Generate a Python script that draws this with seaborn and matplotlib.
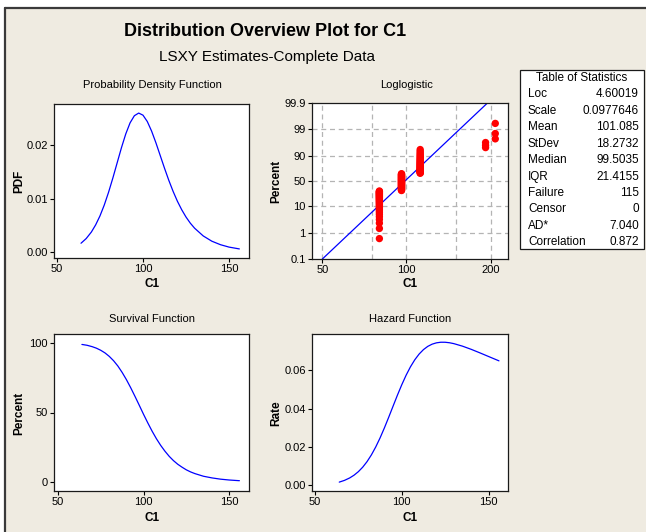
import numpy as np
import pandas as pd
import matplotlib
matplotlib.use('Agg')
import matplotlib.pyplot as plt
import seaborn as sns
from matplotlib.ticker import FixedLocator, NullLocator, NullFormatter
from matplotlib.patches import Rectangle
from matplotlib.lines import Line2D

# values
c1 = [64, 67, 70, 72.5, 75, 77.5, 80, 82.5, 85, 87.5, 90, 92.5, 95, 97.5, 100, 102.5,
      105, 107.5, 110, 112.5, 115, 117.5, 120, 122.5, 125, 127.5, 130, 135, 140, 145, 150, 156]
pdf = [0.00171, 0.00258, 0.00379, 0.00513, 0.00679, 0.00882, 0.01120, 0.01386, 0.01669, 0.01951,
       0.02207, 0.02413, 0.02546, 0.02595, 0.02556, 0.02438, 0.02260, 0.02043, 0.01806, 0.01569,
       0.01343, 0.01137, 0.00953, 0.00795, 0.00659, 0.00545, 0.00451, 0.00307, 0.00209, 0.00144,
       0.00099, 0.00065]
survival = [98.9, 98.3, 97.3, 96.2, 94.7, 92.8, 90.3, 87.2, 83.4, 78.8, 73.6, 67.8, 61.6, 55.2,
            48.7, 42.5, 36.6, 31.2, 26.4, 22.2, 18.5, 15.4, 12.8, 10.7, 8.8, 7.3, 6.1, 4.2, 3.0,
            2.1, 1.5, 1.0]
hazard = [0.00173, 0.00263, 0.00390, 0.00533, 0.00717, 0.00950, 0.01240, 0.01590, 0.02002,
          0.02474, 0.02997, 0.03556, 0.04131, 0.04702, 0.05244, 0.05741, 0.06178, 0.06546,
          0.06845, 0.07076, 0.07246, 0.07361, 0.07430, 0.07461, 0.07460, 0.07434, 0.07388,
          0.07256, 0.07091, 0.06908, 0.06718, 0.06491]

# probability plot: failure values and how many of each
fail_values = [80, 96, 112, 192, 208]
fail_counts = [34, 42, 33, 3, 3]
fit_c1 = [50, 195]
fit_pct = [0.1, 99.9]

stat_names = ['Loc', 'Scale', 'Mean', 'StDev', 'Median', 'IQR', 'Failure', 'Censor', 'AD*', 'Correlation']
stat_values = ['4.60019', '0.0977646', '101.085', '18.2732', '99.5035', '21.4155', '115', '0', '7.040', '0.872']

# median ranks (Benard) for the plotted points
x_pts = np.repeat(fail_values, fail_counts)
n = len(x_pts)
ranks = np.arange(1, n + 1)
prob_df = pd.DataFrame({'C1': x_pts, 'p': (ranks - 0.3) / (n + 0.4)})

sns.set_theme(style='white')
plt.rcParams['font.family'] = ['Liberation Sans', 'DejaVu Sans']
plt.rcParams['text.color'] = 'black'
plt.rcParams['axes.labelcolor'] = 'black'
plt.rcParams['xtick.color'] = 'black'
plt.rcParams['ytick.color'] = 'black'

W, H = 646, 532
BG = '#EFEBE1'
BLUE = '#0000FF'
EDGE = '#1a1a1a'

fig = plt.figure(figsize=(W / 100, H / 100), dpi=100, facecolor='white')


def fx(px):
    return px / W


def fy(py):
    return 1 - py / H


def add_ax(l, t, r, b):
    return fig.add_axes([fx(l), fy(b), (r - l) / W, (b - t) / H])


# beige panel with dark top/left border
fig.patches.append(Rectangle((fx(5), 0), 1 - fx(5), fy(8), transform=fig.transFigure,
                             facecolor=BG, edgecolor='none', zorder=-10))
fig.lines.append(Line2D([fx(5), fx(5)], [0, fy(8)], transform=fig.transFigure, color='#3a3a3a', lw=1.6))
fig.lines.append(Line2D([fx(5), 1], [fy(8), fy(8)], transform=fig.transFigure, color='#3a3a3a', lw=1.6))

fig.text(fx(265), fy(32), 'Distribution Overview Plot for C1', ha='center', va='center',
         fontsize=13, fontweight='bold')
fig.text(fx(267), fy(57), 'LSXY Estimates-Complete Data', ha='center', va='center', fontsize=11)


def style(ax):
    ax.set_facecolor('white')
    for s in ax.spines.values():
        s.set_visible(True)
        s.set_color(EDGE)
        s.set_linewidth(0.9)
    ax.tick_params(direction='out', length=3, width=0.8, labelsize=8, pad=1.5,
                   left=True, bottom=True, colors='black')
    ax.set_xlabel('')
    ax.set_ylabel('')


lab = dict(fontsize=8.5, fontweight='bold', ha='center', va='center')
ttl = dict(fontsize=8, ha='center', va='center')

# PDF
ax1 = add_ax(54, 104, 249, 258)
sns.lineplot(x=c1, y=pdf, ax=ax1, color=BLUE, linewidth=0.9)
ax1.set_xlim(48.3, 161.6)
ax1.set_ylim(-0.00104, 0.02764)
ax1.set_xticks([50, 100, 150])
ax1.set_yticks([0.0, 0.01, 0.02])
ax1.set_yticklabels(['0.00', '0.01', '0.02'])
style(ax1)
fig.text(fx(152), fy(85), 'Probability Density Function', **ttl)
fig.text(fx(19), fy(181), 'PDF', rotation=90, **lab)
fig.text(fx(152), fy(284), 'C1', **lab)

# Loglogistic probability plot
ax2 = add_ax(312, 103, 508, 259)
ax2.set_xscale('log')
ax2.set_yscale('logit')
for gx in [50, 75, 100, 150, 200]:
    ax2.axvline(gx, color='#b4b4b4', lw=0.9, ls=(0, (4, 3)), zorder=0)
for gy in [0.01, 0.1, 0.5, 0.9, 0.99]:
    ax2.axhline(gy, color='#b4b4b4', lw=0.9, ls=(0, (4, 3)), zorder=0)
sns.lineplot(x=fit_c1, y=np.array(fit_pct) / 100, ax=ax2, color=BLUE, linewidth=0.9, zorder=2)
sns.scatterplot(data=prob_df, x='C1', y='p', ax=ax2, color='#FF0000', s=28, edgecolor='none',
                linewidth=0, zorder=3)
ax2.set_xlim(45.9, 231)
ax2.set_ylim(0.001, 0.999)
ax2.xaxis.set_major_locator(FixedLocator([50, 100, 200]))
ax2.xaxis.set_minor_locator(NullLocator())
ax2.xaxis.set_minor_formatter(NullFormatter())
ax2.set_xticklabels(['50', '100', '200'])
ax2.yaxis.set_major_locator(FixedLocator([0.001, 0.01, 0.1, 0.5, 0.9, 0.99, 0.999]))
ax2.yaxis.set_minor_locator(NullLocator())
ax2.yaxis.set_minor_formatter(NullFormatter())
ax2.set_yticklabels(['0.1', '1', '10', '50', '90', '99', '99.9'])
style(ax2)
fig.text(fx(407), fy(85), 'Loglogistic', **ttl)
fig.text(fx(276), fy(181), 'Percent', rotation=90, **lab)
fig.text(fx(410), fy(284), 'C1', **lab)

# Table of statistics
fig.patches.append(Rectangle((fx(520), fy(249)), fx(644) - fx(520), fy(70) - fy(249),
                             transform=fig.transFigure, facecolor='white', edgecolor=EDGE, lw=0.9))
fig.text(fx(582), fy(78.5), 'Table of Statistics', fontsize=8.5, ha='center', va='center')
for i, (nm, v) in enumerate(zip(stat_names, stat_values)):
    yy = 94.5 + i * 16.4
    fig.text(fx(528), fy(yy), nm, fontsize=8.5, ha='left', va='center')
    fig.text(fx(639), fy(yy), v, fontsize=8.5, ha='right', va='center')

# Survival
ax3 = add_ax(54, 334, 249, 491)
sns.lineplot(x=c1, y=survival, ax=ax3, color=BLUE, linewidth=0.9)
ax3.set_xlim(47.7, 161.6)
ax3.set_ylim(-6.4, 106.4)
ax3.set_xticks([50, 100, 150])
ax3.set_yticks([0, 50, 100])
style(ax3)
fig.text(fx(152), fy(319), 'Survival Function', **ttl)
fig.text(fx(19), fy(413), 'Percent', rotation=90, **lab)
fig.text(fx(152), fy(518), 'C1', **lab)

# Hazard
ax4 = add_ax(312, 334, 508, 491)
sns.lineplot(x=c1, y=hazard, ax=ax4, color=BLUE, linewidth=0.9)
ax4.set_xlim(48.3, 161.2)
ax4.set_ylim(-0.0029, 0.0789)
ax4.set_xticks([50, 100, 150])
ax4.set_yticks([0.0, 0.02, 0.04, 0.06])
ax4.set_yticklabels(['0.00', '0.02', '0.04', '0.06'])
style(ax4)
fig.text(fx(410), fy(319), 'Hazard Function', **ttl)
fig.text(fx(276), fy(413), 'Rate', rotation=90, **lab)
fig.text(fx(410), fy(518), 'C1', **lab)

fig.savefig('out.png', dpi=100, facecolor='white')
